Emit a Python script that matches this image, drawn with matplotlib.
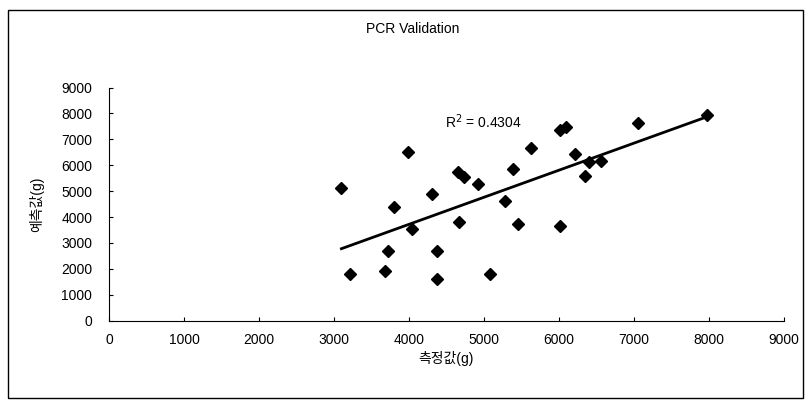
import numpy as np
import matplotlib
matplotlib.use('Agg')
import matplotlib.pyplot as plt
from matplotlib.patches import Rectangle

plt.rcParams['font.family'] = ['Liberation Sans', 'Noto Sans CJK KR', 'DejaVu Sans']

# 측정값 (measured) vs 예측값 (predicted), grams
measured = [3100, 3220, 3800, 3720, 3680, 4040, 4310, 4380, 4380, 4660,
            4730, 4920, 4670, 5080, 3990, 5390, 5280, 5460, 5630, 6010,
            6090, 6010, 6220, 6400, 6560, 6350, 7060, 7970]
predicted = [5110, 1800, 4400, 2690, 1920, 3540, 4890, 2690, 1600, 5750,
             5560, 5280, 3820, 1800, 6510, 5840, 4630, 3750, 6660, 7360,
             7490, 3660, 6420, 6120, 6180, 5600, 7620, 7950]
r2_text = 'R$^2$ = 0.4304'
ticks = [0, 1000, 2000, 3000, 4000, 5000, 6000, 7000, 8000, 9000]

fig = plt.figure(figsize=(8.11, 4.04), dpi=100)
ax = fig.add_axes([0.1344, 0.2062, 0.832, 0.577])

ax.plot(measured, predicted, linestyle='none', marker='D', color='black', ms=6.5)

# linear trend line over the data range
slope, intercept = np.polyfit(measured, predicted, 1)
xs = np.array([min(measured), max(measured)])
ax.plot(xs, slope * xs + intercept, color='black', lw=2)

ax.text(4480, 7700, r2_text, fontsize=10, va='center', ha='left')

ax.set_xlim(0, 9000)
ax.set_ylim(0, 9000)
ax.set_xticks(ticks)
ax.set_yticks(ticks)
ax.tick_params(direction='in', length=3, labelsize=10)
ax.tick_params(axis='x', pad=9)
ax.tick_params(axis='y', pad=12)
ax.spines['top'].set_visible(False)
ax.spines['right'].set_visible(False)
ax.set_xlabel('측정값(g)', fontsize=10, labelpad=3)
ax.set_ylabel('예측값(g)', fontsize=10, labelpad=12)

fig.text(0.509, 0.928, 'PCR Validation', ha='center', va='center', fontsize=10)

# outer chart frame
fig.patches.append(Rectangle((0.01, 0.015), 0.98, 0.96, transform=fig.transFigure,
                             fill=False, edgecolor='black', lw=1))

fig.savefig('out.png', dpi=100)
